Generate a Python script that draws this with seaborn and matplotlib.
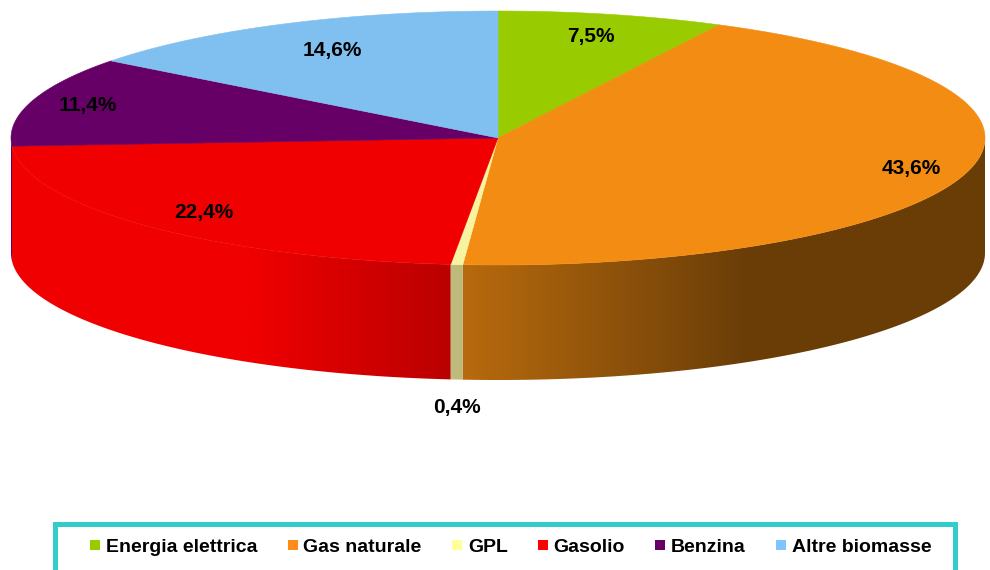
import numpy as np
import matplotlib
matplotlib.use("Agg")
import matplotlib.pyplot as plt
import seaborn as sns
from matplotlib.patches import Polygon, Rectangle
from matplotlib.lines import Line2D
from matplotlib.colors import to_rgb

categories = ["Energia elettrica", "Gas naturale", "GPL", "Gasolio", "Benzina", "Altre biomasse"]
shares = [7.5, 43.6, 0.4, 22.4, 11.4, 14.6]
colors = ["#99cc00", "#f28c12", "#f7f3a0", "#f00000", "#660066", "#80c0f0"]
legend_colors = ["#99cc00", "#ff8c1a", "#ffff99", "#ff0000", "#660066", "#80c4ff"]


def pct_text(v):
    return f"{v:.1f}%".replace(".", ",")


def shade_factor(x):
    # light comes from the left, the wall darkens to the right
    return np.clip(0.72 - 0.55 * x, 0.44, 1.0)


def main():
    sns.set_theme(style="white")
    plt.rcParams["font.family"] = ["Liberation Sans", "DejaVu Sans"]

    fig = plt.figure(figsize=(9.9, 5.7), dpi=100)
    ax = fig.add_axes([0, 0, 1, 1])
    # pie radius = 1 unit (487 px), centre at (498, 138) px
    xlim = (-498 / 487, (990 - 498) / 487)
    ylim = (-432 / 487, 138 / 487)
    ax.set_xlim(*xlim)
    ax.set_ylim(*ylim)
    ax.axis("off")

    b = 127 / 487      # vertical semi axis of the tilted disc
    depth = 115 / 487  # thickness of the pie
    fracs = np.array(shares) / sum(shares)
    edges = np.concatenate([[0], np.cumsum(fracs)]) * 2 * np.pi

    def px(t):
        return np.sin(t)

    def py(t):
        return b * np.cos(t)

    # side walls (front half only), shaded with a horizontal gradient
    for i, c in enumerate(colors):
        t0 = max(edges[i], np.pi / 2)
        t1 = min(edges[i + 1], 3 * np.pi / 2)
        if t1 <= t0:
            continue
        ts = np.linspace(t0, t1, 300)
        top = list(zip(px(ts), py(ts)))
        bottom = list(zip(px(ts[::-1]), py(ts[::-1]) - depth))
        wall = Polygon(top + bottom, closed=True, facecolor="none",
                       edgecolor="none", zorder=1)
        ax.add_patch(wall)
        xs = np.linspace(xlim[0], xlim[1], 600)
        grad = np.array(to_rgb(c))[None, :] * shade_factor(xs)[:, None]
        img = ax.imshow(np.clip(grad, 0, 1)[None, :, :], aspect="auto",
                        extent=(xlim[0], xlim[1], ylim[0], ylim[1]),
                        interpolation="bilinear", zorder=1)
        img.set_clip_path(wall)

    # top surface
    for i, c in enumerate(colors):
        ts = np.linspace(edges[i], edges[i + 1], 200)
        pts = [(0, 0)] + list(zip(px(ts), py(ts)))
        ax.add_patch(Polygon(pts, closed=True, facecolor=c, edgecolor=c,
                             linewidth=0.4, zorder=2))

    ax.set_xlim(*xlim)
    ax.set_ylim(*ylim)

    # value labels
    label_r = [0.82, 0.88, None, 0.84, 0.88, 0.77]
    for i, v in enumerate(shares):
        mid = (edges[i] + edges[i + 1]) / 2
        if label_r[i] is None:
            x, y = px(mid), py(mid) - depth - 0.058
        else:
            x, y = label_r[i] * px(mid), label_r[i] * py(mid)
        ax.text(x, y, pct_text(v), ha="center", va="center",
                fontsize=15, fontweight="bold", color="black", zorder=5)

    # legend
    handles = [Line2D([], [], marker="s", linestyle="", markersize=7,
                      markerfacecolor=c, markeredgewidth=0) for c in legend_colors]
    fig.legend(handles, categories, loc="center",
               bbox_to_anchor=(510 / 990, 1 - 547 / 570), ncol=6, frameon=False,
               prop={"weight": "bold", "size": 14}, handlelength=0.7,
               handletextpad=0.2, columnspacing=1.47, borderpad=0,
               labelcolor="black")
    fig.add_artist(Rectangle((55 / 990, -10 / 570), 900 / 990, (570 - 524 + 10) / 570,
                             transform=fig.transFigure, fill=False,
                             edgecolor="#33cccc", linewidth=3.6))

    fig.savefig("out.png", dpi=100)


if __name__ == "__main__":
    main()
